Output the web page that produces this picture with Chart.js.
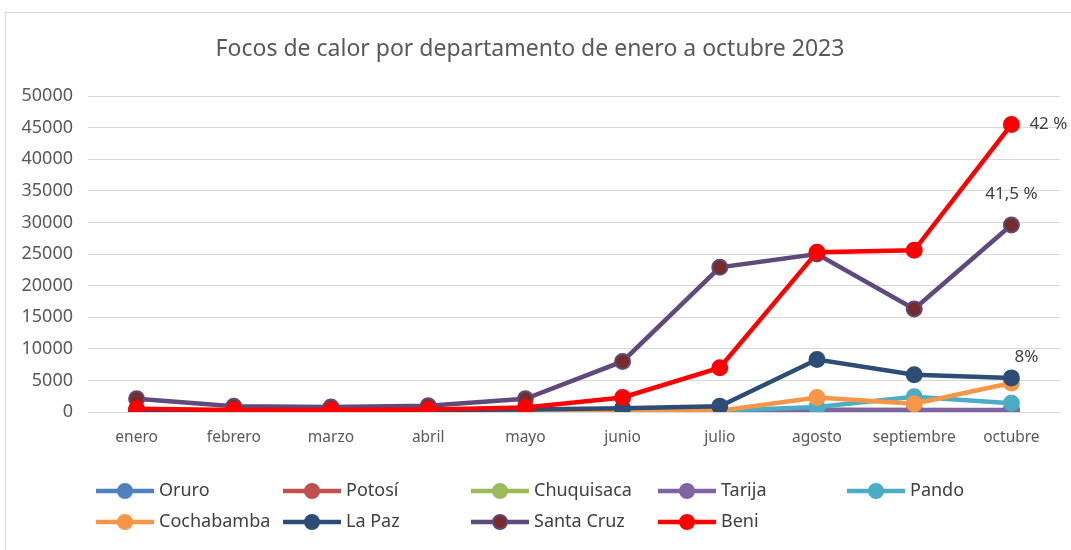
<!DOCTYPE html>
<html>
<head>
<meta charset="utf-8">
<script src="https://cdn.jsdelivr.net/npm/chart.js@4"></script>
<style>
  html, body { margin: 0; padding: 0; background: #fff; }
  #wrap { width: 1071px; height: 550px; }
</style>
</head>
<body>
<div id="wrap"><canvas id="chart" width="1071" height="550"></canvas></div>
<script>
// Months on the x axis
const months = ["enero", "febrero", "marzo", "abril", "mayo", "junio", "julio", "agosto", "septiembre", "octubre"];

// Heat spots per department
const oruro      = [20, 10, 10, 20, 40, 80, 120, 250, 200, 150];
const potosi     = [30, 20, 20, 30, 50, 100, 150, 300, 250, 200];
const chuquisaca = [40, 20, 20, 30, 60, 120, 150, 350, 300, 250];
const tarija     = [100, 50, 50, 80, 100, 150, 200, 300, 300, 300];
const pando      = [50, 20, 20, 30, 100, 150, 200, 800, 2400, 1400];
const cochabamba = [200, 100, 100, 100, 150, 200, 200, 2300, 1300, 4600];
const laPaz      = [300, 200, 200, 300, 400, 600, 900, 8300, 5900, 5400];
const santaCruz  = [2100, 900, 800, 1000, 2100, 8000, 22900, 25000, 16300, 29600];
const beni       = [500, 300, 300, 400, 700, 2300, 7000, 25300, 25600, 45500];

const yTicks = [0, 5000, 10000, 15000, 20000, 25000, 30000, 35000, 40000, 45000, 50000];

// Legend order, colours and end labels
const names   = ["Oruro", "Potosí", "Chuquisaca", "Tarija", "Pando", "Cochabamba", "La Paz", "Santa Cruz", "Beni"];
const series  = [oruro, potosi, chuquisaca, tarija, pando, cochabamba, laPaz, santaCruz, beni];
const lineCol = ["#4f81bd", "#c0504d", "#9bbb59", "#8064a2", "#4bacc6", "#f79646", "#2c4d75", "#604a7b", "#ff0000"];
const dotCol  = ["#4f81bd", "#c0504d", "#9bbb59", "#8064a2", "#4bacc6", "#f79646", "#2c4d75", "#772c2a", "#ff0000"];
const endLabels = { "Beni": "42 %", "Santa Cruz": "41,5 %", "La Paz": "8%" };

const FONT = "'Noto Sans', 'DejaVu Sans', sans-serif";
const TEXT = "#595959";

// Build datasets; Beni gets order 0 so it is drawn on top
const datasets = names.map(function (n, i) {
  return {
    label: n,
    data: series[i],
    borderColor: lineCol[i],
    backgroundColor: dotCol[i],
    pointBackgroundColor: dotCol[i],
    pointBorderColor: lineCol[i],
    pointBorderWidth: 2,
    pointRadius: 7.5,
    borderWidth: 4.5,
    tension: 0,
    order: names.length - 1 - i
  };
});

// Frame around the whole chart
const framePlugin = {
  id: "frame",
  beforeDraw: function (chart) {
    const ctx = chart.ctx;
    ctx.save();
    ctx.strokeStyle = "#d9d9d9";
    ctx.lineWidth = 1;
    ctx.strokeRect(5.5, 12.5, 1080, 560);
    ctx.restore();
  }
};

// Percentage labels next to the last points
const endLabelPlugin = {
  id: "endLabels",
  afterDatasetsDraw: function (chart) {
    const ctx = chart.ctx;
    ctx.save();
    ctx.font = "17px " + FONT;
    ctx.fillStyle = "#404040";
    ctx.textBaseline = "middle";
    chart.data.datasets.forEach(function (ds, i) {
      const txt = endLabels[ds.label];
      if (!txt) return;
      const pts = chart.getDatasetMeta(i).data;
      const p = pts[pts.length - 1];
      if (ds.label === "Beni") {
        ctx.textAlign = "left";
        ctx.fillText(txt, p.x + 18, p.y);
      } else if (ds.label === "Santa Cruz") {
        ctx.textAlign = "center";
        ctx.fillText(txt, p.x, p.y - 31);
      } else {
        ctx.textAlign = "center";
        ctx.fillText(txt, p.x + 15, p.y - 21);
      }
    });
    ctx.restore();
  }
};

// Grid legend: 5 columns, 2 rows
const legendPlugin = {
  id: "gridLegend",
  afterDraw: function (chart) {
    const ctx = chart.ctx;
    const cols = [96, 283, 471, 658, 847];
    const rows = [491, 522];
    ctx.save();
    ctx.font = "18px " + FONT;
    ctx.textBaseline = "middle";
    ctx.textAlign = "left";
    names.forEach(function (n, i) {
      const x = cols[i % 5];
      const y = rows[Math.floor(i / 5)];
      ctx.strokeStyle = lineCol[i];
      ctx.lineWidth = 4.5;
      ctx.beginPath();
      ctx.moveTo(x, y);
      ctx.lineTo(x + 58, y);
      ctx.stroke();
      ctx.beginPath();
      ctx.arc(x + 29, y, 7, 0, Math.PI * 2);
      ctx.fillStyle = dotCol[i];
      ctx.fill();
      ctx.lineWidth = 2;
      ctx.stroke();
      ctx.fillStyle = "#404040";
      ctx.fillText(n, x + 63, y);
    });
    ctx.restore();
  }
};

new Chart(document.getElementById("chart"), {
  type: "line",
  data: { labels: months, datasets: datasets },
  options: {
    responsive: false,
    animation: false,
    events: [],
    layout: { padding: { top: 12, left: 0, right: 11, bottom: 0 } },
    plugins: {
      legend: { display: false },
      tooltip: { enabled: false },
      title: {
        display: true,
        text: "Focos de calor por departamento de enero a octubre 2023",
        color: TEXT,
        font: { family: FONT, size: 23, weight: "normal" },
        padding: { top: 24, bottom: 32.5 }
      }
    },
    scales: {
      x: {
        offset: true,
        grid: { display: false, drawTicks: false },
        border: { display: false },
        ticks: { color: TEXT, font: { family: FONT, size: 15.5 }, padding: 16 },
        afterFit: function (s) { s.height = 138; }
      },
      y: {
        min: 0,
        max: 50000,
        grid: { color: "#d9d9d9", lineWidth: 1, drawTicks: false },
        border: { display: false },
        afterBuildTicks: function (s) { s.ticks = yTicks.map(function (v) { return { value: v }; }); },
        ticks: {
          color: TEXT,
          font: { family: FONT, size: 18 },
          padding: 15,
          callback: function (v) { return String(v); }
        },
        afterFit: function (s) { s.width = 88; }
      }
    }
  },
  plugins: [framePlugin, endLabelPlugin, legendPlugin]
});
</script>
</body>
</html>
